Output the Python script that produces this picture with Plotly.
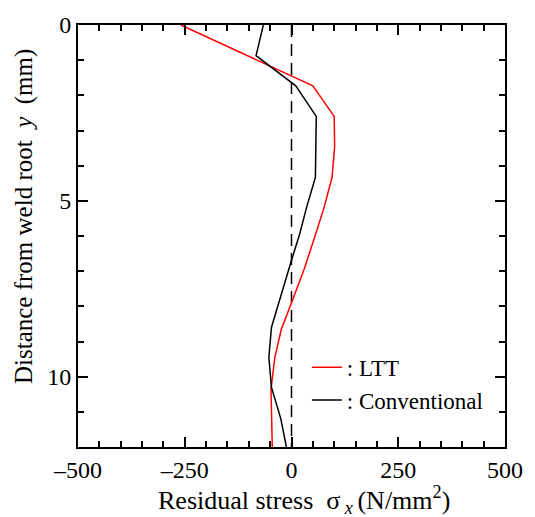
import plotly.graph_objects as go

# Data
ltt_y = [0, 1.73, 2.6, 3.46, 4.33, 5.2, 6.04, 6.93, 7.9, 8.66, 9.45, 10.35, 12]
ltt_x = [-259, 50, 100, 101, 95, 76, 54, 30, 0, -24, -39, -48, -45]

conv_y = [0, 0.87, 1.73, 2.6, 3.46, 4.33, 5.2, 5.95, 6.69, 7.8, 8.6, 9.45, 10.3, 11.2, 12]
conv_x = [-66, -83, 10, 58, 57, 56, 35, 19, 0, -28, -47, -53, -47, -25, -12]

x_tickvals = [-500, -250, 0, 250, 500]
x_ticktext = ["\u2013500", "\u2013250", "0", "250", "500"]
y_tickvals = [0, 5, 10]
y_ticktext = ["0", "5", "10"]

FONT = "Liberation Serif"
NB = "\u00a0"

fig = go.Figure()
fig.add_trace(go.Scatter(x=[0, 0], y=[0, 12], mode="lines",
                         line=dict(color="black", width=1.5, dash="12px,7px"),
                         showlegend=False, hoverinfo="skip"))
fig.add_trace(go.Scatter(x=ltt_x, y=ltt_y, mode="lines", name=": LTT",
                         line=dict(color="#ff0000", width=1.5)))
fig.add_trace(go.Scatter(x=conv_x, y=conv_y, mode="lines", name=": Conventional",
                         line=dict(color="black", width=1.5)))

axis_common = dict(
    showgrid=False, zeroline=False, showline=True, linecolor="black", linewidth=2,
    ticks="inside", ticklen=10, tickwidth=1.5, tickcolor="black", mirror="allticks",
    tickfont=dict(family=FONT, size=24, color="black"),
)

fig.update_layout(
    width=535, height=517,
    margin=dict(l=78, r=26, t=17, b=70),
    paper_bgcolor="white", plot_bgcolor="white",
    font=dict(family=FONT, size=24, color="black"),
    xaxis=dict(range=[-500, 500], tickmode="array", tickvals=x_tickvals, ticktext=x_ticktext,
               minor=dict(dtick=50, ticks="inside", ticklen=6, tickwidth=1.5, tickcolor="black"),
               **axis_common),
    yaxis=dict(range=[12, 0], tickmode="array", tickvals=y_tickvals, ticktext=y_ticktext,
               minor=dict(dtick=1, ticks="inside", ticklen=6, tickwidth=1.5, tickcolor="black"),
               **axis_common),
    legend=dict(x=0.536, y=0.24, xanchor="left", yanchor="top",
                font=dict(family=FONT, size=23, color="black"),
                bgcolor="rgba(0,0,0,0)", tracegroupgap=0),
    showlegend=True,
    annotations=[
        dict(text="Residual stress" + NB + NB + "\u03c3<sub>" + NB + "<i>x</i>" + NB + "</sub>(N/mm<sup>2</sup>)",
             xref="paper", yref="paper", x=(306 - 78) / 431, y=-0.078, xanchor="center", yanchor="top",
             showarrow=False, font=dict(family=FONT, size=26, color="black")),
        dict(text="Distance from weld root" + NB + NB + "<i>y</i>" + NB + NB + "(mm)",
             xref="paper", yref="paper", x=-0.125, y=(447 - 212) / 430, xanchor="center", yanchor="middle",
             textangle=-90, showarrow=False, font=dict(family=FONT, size=25, color="black")),
    ],
)

fig.write_html("out.html")
